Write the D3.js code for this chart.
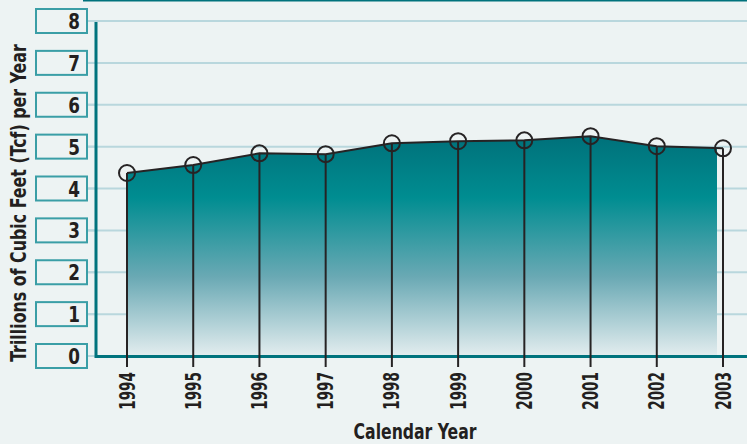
<!DOCTYPE html>
<html>
<head>
<meta charset="utf-8">
<script src="https://cdn.jsdelivr.net/npm/d3@7"></script>
<style>
body { margin: 0; background: #edf3f3; }
svg { display: block; }
text { font-family: "DejaVu Sans Condensed", "DejaVu Sans", sans-serif; font-weight: bold; fill: #231f20; }
</style>
</head>
<body>
<svg id="chart" width="747" height="444"></svg>
<script>
var years = ["1994", "1995", "1996", "1997", "1998", "1999", "2000", "2001", "2002", "2003"];
var tcf = [4.37, 4.56, 4.84, 4.82, 5.08, 5.13, 5.15, 5.25, 5.01, 4.96];
var yTicks = [0, 1, 2, 3, 4, 5, 6, 7, 8];

var svg = d3.select("#chart");

var x = d3.scalePoint()
	.domain(years)
	.range([127, 723]);

var y = d3.scaleLinear()
	.domain([0, 8])
	.range([356, 21]);

var data = years.map(function(d, i) { return { year: d, value: tcf[i] }; });

// background
svg.append("rect")
	.attr("width", 747).attr("height", 444)
	.attr("fill", "#edf3f3");

// top frame line
svg.append("line")
	.attr("x1", 83).attr("x2", 747)
	.attr("y1", 0.5).attr("y2", 0.5)
	.attr("stroke", "#00727c").attr("stroke-width", 2);

var defs = svg.append("defs");
var grad = defs.append("linearGradient")
	.attr("id", "fade")
	.attr("gradientUnits", "userSpaceOnUse")
	.attr("x1", 0).attr("x2", 0)
	.attr("y1", 130).attr("y2", 356);
grad.append("stop").attr("offset", "0").attr("stop-color", "#006e78");
grad.append("stop").attr("offset", "0.3").attr("stop-color", "#008d91");
grad.append("stop").attr("offset", "0.65").attr("stop-color", "#6aa9b4");
grad.append("stop").attr("offset", "1").attr("stop-color", "#e3edef");

defs.append("clipPath").attr("id", "clip")
	.append("rect")
	.attr("x", 0).attr("y", 0)
	.attr("width", 717).attr("height", 444);

// gridlines
svg.append("g").selectAll("line")
	.data(yTicks.filter(function(d) { return d > 0; }))
	.enter().append("line")
	.attr("x1", 87).attr("x2", 747)
	.attr("y1", function(d) { return y(d); })
	.attr("y2", function(d) { return y(d); })
	.attr("stroke", "#b9d7dd").attr("stroke-width", 2);

// tick boxes
var ticks = svg.append("g").selectAll("g")
	.data(yTicks)
	.enter().append("g")
	.attr("transform", function(d) { return "translate(0," + y(d) + ")"; });
ticks.append("line")
	.attr("x1", 87).attr("x2", 96)
	.attr("stroke", "#b9d7dd").attr("stroke-width", 2);
ticks.append("rect")
	.attr("x", 36).attr("y", -12)
	.attr("width", 51).attr("height", 24)
	.attr("fill", "#edf3f3")
	.attr("stroke", "#3a9ea6").attr("stroke-width", 2);
ticks.append("text")
	.attr("transform", "translate(80,8) scale(0.85,1)")
	.attr("text-anchor", "end")
	.style("font-size", "22px")
	.text(function(d) { return d; });

// area
var area = d3.area()
	.x(function(d) { return x(d.year); })
	.y0(y(0))
	.y1(function(d) { return y(d.value); });

svg.append("path")
	.datum(data)
	.attr("clip-path", "url(#clip)")
	.attr("d", area)
	.attr("fill", "url(#fade)");

// axes
svg.append("line")
	.attr("x1", 96).attr("x2", 747)
	.attr("y1", 356.5).attr("y2", 356.5)
	.attr("stroke", "#00737d").attr("stroke-width", 3);
svg.append("line")
	.attr("x1", 96).attr("x2", 96)
	.attr("y1", 22).attr("y2", 358)
	.attr("stroke", "#00737d").attr("stroke-width", 3);

// drop lines
svg.append("g").selectAll("line")
	.data(data)
	.enter().append("line")
	.attr("x1", function(d) { return x(d.year); })
	.attr("x2", function(d) { return x(d.year); })
	.attr("y1", function(d) { return y(d.value); })
	.attr("y2", 367)
	.attr("stroke", "#262324").attr("stroke-width", 2);

// line
var line = d3.line()
	.x(function(d) { return x(d.year); })
	.y(function(d) { return y(d.value); });

svg.append("path")
	.datum(data)
	.attr("d", line)
	.attr("fill", "none")
	.attr("stroke", "#262324").attr("stroke-width", 2);

svg.append("g").selectAll("circle")
	.data(data)
	.enter().append("circle")
	.attr("cx", function(d) { return x(d.year); })
	.attr("cy", function(d) { return y(d.value); })
	.attr("r", 8)
	.attr("fill", "none")
	.attr("stroke", "#262324").attr("stroke-width", 2);

// year labels
svg.append("g").selectAll("text")
	.data(years)
	.enter().append("text")
	.attr("transform", function(d) { return "translate(" + x(d) + ",372) rotate(-90) scale(0.72,1)"; })
	.attr("dy", "0.36em")
	.attr("text-anchor", "end")
	.style("font-size", "21px")
	.text(function(d) { return d; });

svg.append("text")
	.attr("transform", "translate(415,439) scale(0.83,1)")
	.attr("text-anchor", "middle")
	.style("font-size", "21px")
	.text("Calendar Year");

svg.append("text")
	.attr("transform", "translate(26,203) rotate(-90) scale(0.84,1)")
	.attr("text-anchor", "middle")
	.style("font-size", "21px")
	.text("Trillions of Cubic Feet (Tcf) per Year");
</script>
</body>
</html>
